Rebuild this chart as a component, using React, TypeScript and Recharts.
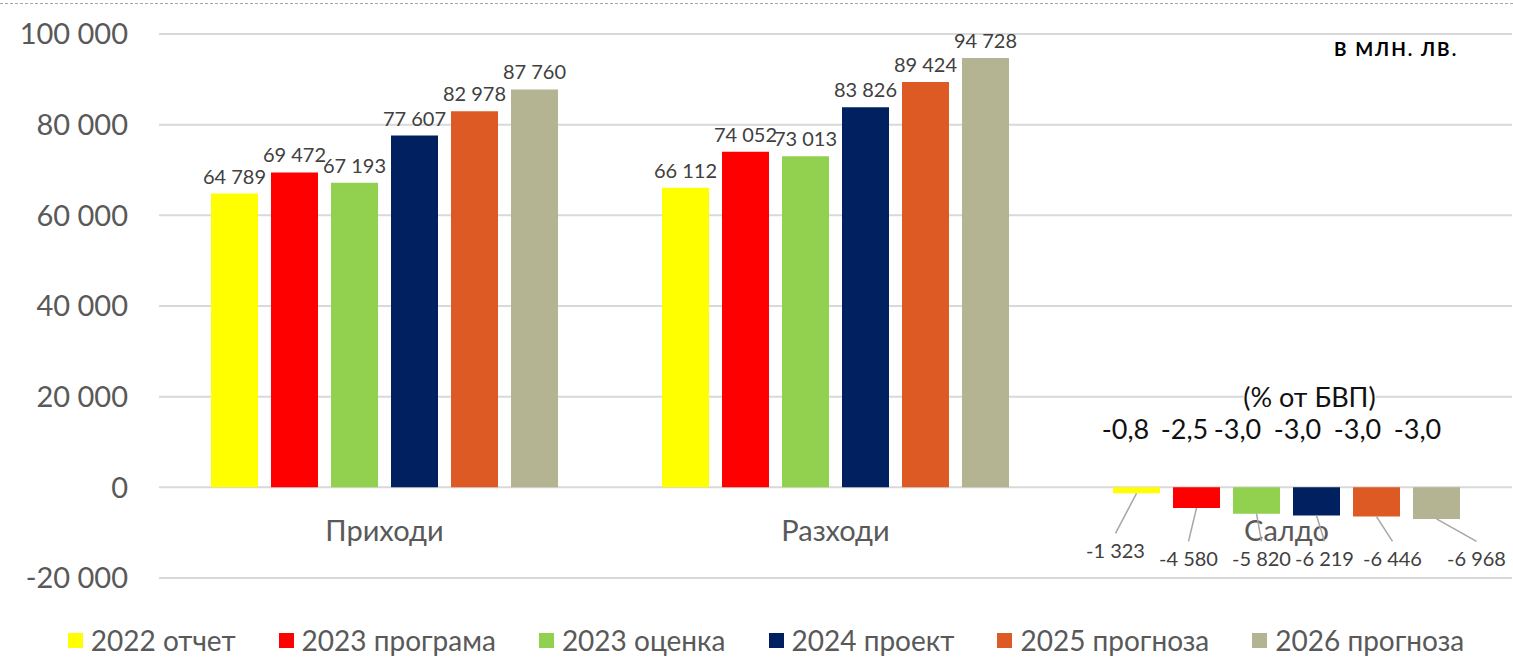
import React from "react";
import { BarChart, Bar, XAxis, YAxis, CartesianGrid, Legend, LabelList } from "recharts";

// Бюджет: приходи, разходи и салдо (млн. лв.)
const categories = ["Приходи", "Разходи", "Салдо"];
const seriesNames = ["2022 отчет", "2023 програма", "2023 оценка", "2024 проект", "2025 прогноза", "2026 прогноза"];
const report2022 = [64789, 66112, -1323];
const program2023 = [69472, 74052, -4580];
const estimate2023 = [67193, 73013, -5820];
const project2024 = [77607, 83826, -6219];
const forecast2025 = [82978, 89424, -6446];
const forecast2026 = [87760, 94728, -6968];
const balanceGdp = ["-0,8", "-2,5", "-3,0", "-3,0", "-3,0", "-3,0"];
const yTicks = [-20000, 0, 20000, 40000, 60000, 80000, 100000];

const colors = ["#FFFF00", "#FF0000", "#92D050", "#002060", "#DE5A24", "#B4B493"];
const FONT = "Lato, 'Noto Sans', sans-serif";

// разположение на етикетите под салдото (спрямо центъра на стълба)
const balanceLabelDx = [-21, -8, 5, 8, 16, 40];
const balanceLabelDy = [64, 72, 72, 72, 72, 72];
const gdpLabelDx = [-11, -12, -19, -19, -19, -19];

const allSeries = [report2022, program2023, estimate2023, project2024, forecast2025, forecast2026];

const data = categories.map((name, i) => {
  const row: Record<string, string | number> = { name };
  allSeries.forEach((vals, s) => {
    row[`s${s}`] = vals[i];
  });
  return row;
});

const fmt = (v: number) => {
  const s = Math.abs(Math.round(v)).toString().replace(/\B(?=(\d{3})+(?!\d))/g, " ");
  return v < 0 ? "-" + s : s;
};

const makeLabel = (s: number) => (props: any) => {
  const { x, y, width, height, value } = props;
  const x0 = Number(x);
  const y0 = Number(y);
  const w = Number(width);
  const h = Number(height);
  const cx = x0 + w / 2;
  const top = Math.min(y0, y0 + h);
  const bottom = Math.max(y0, y0 + h);
  const v = Number(value);
  if (v >= 0) {
    return (
      <text x={cx} y={top - 10} textAnchor="middle" fontSize={20} fill="#404040" fontFamily={FONT}>
        {fmt(v)}
      </text>
    );
  }
  const lx = cx + balanceLabelDx[s];
  const ly = top + balanceLabelDy[s];
  return (
    <g>
      <line x1={cx} y1={bottom} x2={lx} y2={ly - 18} stroke="#a6a6a6" strokeWidth={1.5} />
      <text x={lx} y={ly} dy="0.35em" textAnchor="middle" fontSize={20} fill="#404040" fontFamily={FONT}>
        {fmt(v)}
      </text>
      <text x={cx + gdpLabelDx[s]} y={top - 58} dy="0.35em" textAnchor="middle" fontSize={27} fill="#111" fontFamily={FONT}>
        {balanceGdp[s]}
      </text>
      {s === 0 && (
        <g>
          <rect x={cx + 173 - 66} y={top - 103} width={132} height={26} fill="#fff" />
          <text x={cx + 173} y={top - 90} dy="0.35em" textAnchor="middle" fontSize={27} fill="#111" fontFamily={FONT}>
            (% от БВП)
          </text>
        </g>
      )}
    </g>
  );
};

const CategoryTick = (props: any) => {
  const { x, y, payload } = props;
  return (
    <text x={x} y={y - 45} textAnchor="middle" fontSize={29} fill="#595959" fontFamily={FONT}>
      {payload.value}
    </text>
  );
};

const renderLegend = () => (
  <div
    style={{
      display: "flex",
      justifyContent: "center",
      gap: 43,
      fontSize: 28,
      lineHeight: "34px",
      color: "#595959",
      fontFamily: FONT,
      paddingLeft: 20,
    }}
  >
    {seriesNames.map((n, i) => (
      <div key={n} style={{ display: "flex", alignItems: "center" }}>
        <span style={{ width: 15, height: 15, background: colors[i], marginRight: 8, display: "inline-block" }} />
        <span>{n}</span>
      </div>
    ))}
  </div>
);

const App: React.FC = () => {
  return (
    <div style={{ position: "absolute", left: 0, top: 0, width: 1513, height: 657, fontFamily: FONT, background: "#fff" }}>
      <div style={{ position: "absolute", left: 0, top: 3, width: 1513, borderTop: "1.5px dashed #a6a6a6" }} />
      <div
        style={{
          position: "absolute",
          left: 1334,
          top: 37,
          fontSize: 19,
          fontWeight: 700,
          letterSpacing: 2,
          color: "#000",
          zIndex: 2,
        }}
      >
        В МЛН. ЛВ.
      </div>
      <BarChart
        width={1513}
        height={657}
        data={data}
        margin={{ top: 34, right: 1, left: 0, bottom: 0 }}
        barSize={47}
        barGap={13}
      >
        <CartesianGrid vertical={false} stroke="#d9d9d9" strokeWidth={2} />
        <XAxis dataKey="name" axisLine={false} tickLine={false} height={45} tick={<CategoryTick />} interval={0} />
        <YAxis
          domain={[-20000, 100000]}
          ticks={yTicks}
          interval={0}
          axisLine={false}
          tickLine={false}
          width={159}
          tickMargin={25}
          tickFormatter={fmt}
          tick={{ fontSize: 29, fill: "#595959", fontFamily: FONT }}
        />
        <Legend verticalAlign="bottom" content={renderLegend} />
        {seriesNames.map((n, s) => (
          <Bar key={n} dataKey={`s${s}`} name={n} fill={colors[s]} isAnimationActive={false}>
            <LabelList dataKey={`s${s}`} content={makeLabel(s)} />
          </Bar>
        ))}
      </BarChart>
    </div>
  );
};

export default App;
